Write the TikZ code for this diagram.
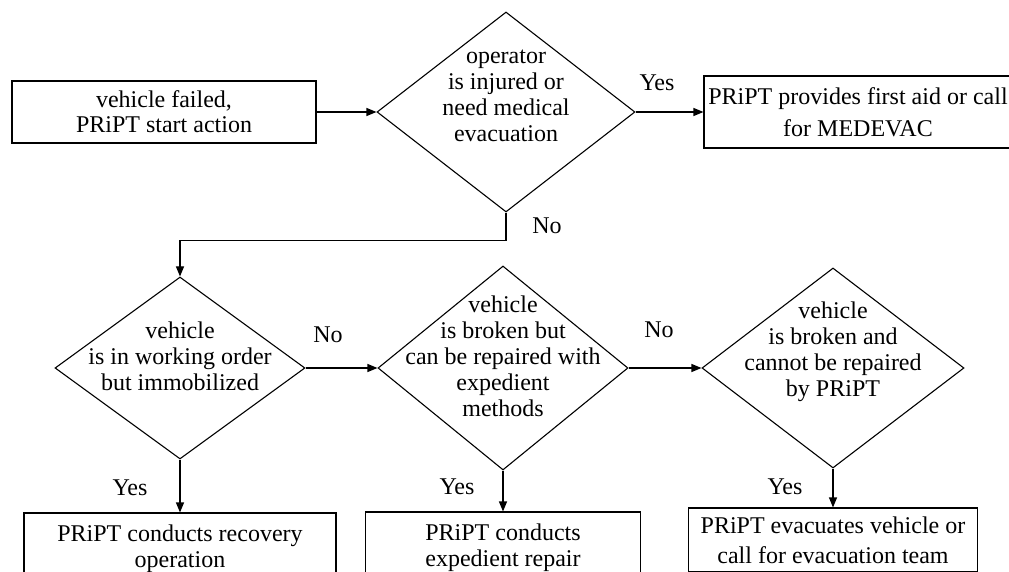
\documentclass[tikz,border=0pt]{standalone}
\usepackage{fontspec}
\setmainfont{LiberationSerif}[Extension=.ttf,UprightFont=*-Regular,BoldFont=*-Bold]
\usetikzlibrary{shapes.geometric,arrows.meta}

\newcommand{\dtext}[2][5pt]{\smash{\raisebox{#1}{\makebox[0pt]{\begin{tabular}{@{}c@{}}#2\end{tabular}}}}}

\begin{document}
\begin{tikzpicture}[->,>={Triangle[length=10pt,width=8pt]},x=1pt,y=1pt,node distance=100pt,line width=1.1pt,
    font=\fontsize{24}{26}\selectfont,
    box node/.style={rectangle,draw,align=center,inner sep=0pt,font=\fontsize{24}{30}\selectfont},
    test node/.style={diamond,draw,inner sep=0pt}]

            \useasboundingbox (-164,112) rectangle (845,-460);

            \node[box node, minimum width=304, minimum height=62, font=\fontsize{24}{25}\selectfont] (1) []{vehicle failed,\\PRiPT start action};
            \node[test node, minimum width=258, minimum height=200] (2) [right of = 1, xshift=242]{\dtext[8pt]{operator\\is injured or\\need medical\\evacuation}};
            \node[box node, minimum width=308, minimum height=72, font=\fontsize{24}{32}\selectfont] (3) [right of = 2, xshift=252]{PRiPT provides first aid or call\\for MEDEVAC};

            \node[test node, minimum width=250, minimum height=182] (4) [below of = 1, xshift=16, yshift=-156]{\dtext[2pt]{vehicle\\is in working order\\but immobilized}};
            \node[test node, minimum width=250, minimum height=204] (5) [right of = 4, xshift=223]{\dtext[2pt]{vehicle\\is broken but\\can be repaired with\\expedient\\methods}};
            \node[test node, minimum width=262, minimum height=200] (6) [right of = 5, xshift=230]{\dtext[9pt]{vehicle\\is broken and\\cannot be repaired\\by PRiPT}};

            \node[box node, minimum width=312, minimum height=72, font=\fontsize{24}{26}\selectfont] (7) [below of = 4, yshift=-81]{PRiPT conducts recovery\\operation};
            \node[box node, minimum width=275, minimum height=72, font=\fontsize{24}{26}\selectfont] (8) [below of = 5, yshift=-80]{PRiPT conducts\\expedient repair};
            \node[box node, minimum width=289, minimum height=64] (9) [below of = 6, yshift=-72]{PRiPT evacuates vehicle or\\call for evacuation team};

            \node[] (y1) [right of = 2, xshift=51, yshift=29]{Yes};
            \node[] (n1) [below of = 2, xshift=41, yshift=-14]{No};
            \node[] (n2) [right of = 4, xshift=48, yshift=33]{No};
            \node[] (n3) [right of = 5, xshift=56, yshift=38]{No};
            \node[] (y2) [below of = 4, xshift=-50, yshift=-20]{Yes};
            \node[] (y3) [below of = 5, xshift=-46, yshift=-19]{Yes};
            \node[] (y4) [below of = 6, xshift=-48, yshift=-19]{Yes};

            \path
                (1) edge (2)
                (2) edge (3)
                (4) edge (5)
                (5) edge (6)
                (4) edge (7)
                (5) edge (8)
                (6) edge (9)
            ;
            \draw (2.south) -- ++(0,-28) -| (4.north);
        \end{tikzpicture}
\end{document}
